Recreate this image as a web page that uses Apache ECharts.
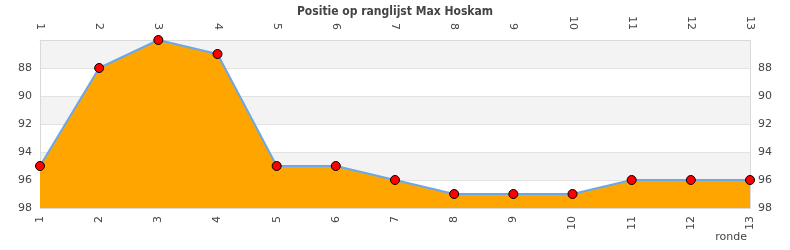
<!DOCTYPE html>
<html>
<head>
<meta charset="utf-8">
<script src="https://cdn.jsdelivr.net/npm/echarts@6/dist/echarts.min.js"></script>
<style>
  html, body { margin: 0; padding: 0; background: #fff; }
  #chart { width: 790px; height: 250px; }
</style>
</head>
<body>
<div id="chart"></div>
<script>
// ronde (rounds) and position in the ranking
const rondes = ['1', '2', '3', '4', '5', '6', '7', '8', '9', '10', '11', '12', '13'];
const posities = [95, 88, 86, 87, 95, 95, 96, 97, 97, 97, 96, 96, 96];
const yTicks = [86, 88, 90, 92, 94, 96, 98];

let myChart = echarts.init(document.getElementById('chart'));

let labelStyle = {
    color: '#444',
    fontFamily: 'DejaVu Sans',
    fontSize: 11
};

let xBase = {
    type: 'category',
    data: rondes,
    boundaryGap: false,
    axisTick: { show: false },
    axisLine: { show: true, lineStyle: { color: '#d9d9d9' } },
    splitLine: { show: false },
    axisLabel: Object.assign({ rotate: 90, interval: 0, margin: 8 }, labelStyle)
};

let yBase = {
    type: 'value',
    inverse: true,
    min: yTicks[0],
    max: yTicks[yTicks.length - 1],
    interval: 2,
    axisTick: { show: false },
    axisLine: { show: true, lineStyle: { color: '#d9d9d9' } },
    axisLabel: Object.assign({ showMinLabel: false, margin: 8 }, labelStyle)
};

let option = {
    animation: false,
    title: [{
        text: 'Positie op ranglijst Max Hoskam',
        left: 'center',
        top: 1,
        textStyle: {
            color: '#444',
            fontFamily: '"DejaVu Sans Condensed", "DejaVu Sans"',
            fontSize: 12,
            fontWeight: 'bold'
        }
    }, {
        text: 'ronde',
        right: 38,
        bottom: 2,
        textStyle: Object.assign({}, labelStyle, { fontWeight: 'normal' })
    }],
    grid: {
        left: 40,
        right: 40,
        top: 40,
        bottom: 42,
        containLabel: false
    },
    xAxis: [
        Object.assign({}, xBase, { position: 'bottom' }),
        Object.assign({}, xBase, {
            position: 'top',
            axisLabel: Object.assign({ rotate: 90, interval: 0, margin: 10 }, labelStyle)
        })
    ],
    yAxis: [
        Object.assign({}, yBase, {
            position: 'left',
            splitLine: { show: true, lineStyle: { color: '#e3e3e3' } },
            splitArea: { show: true, areaStyle: { color: ['#f3f3f3', '#ffffff'] } }
        }),
        Object.assign({}, yBase, { position: 'right', splitLine: { show: false } })
    ],
    series: [{
        name: 'positie',
        type: 'line',
        data: posities,
        symbol: 'circle',
        symbolSize: 9,
        itemStyle: { color: '#ff0000', borderColor: '#000', borderWidth: 1 },
        lineStyle: { color: '#6aa8e8', width: 2 },
        areaStyle: { color: '#ffa500', opacity: 1, origin: 'end' },
        z: 3
    }]
};
myChart.setOption(option);
</script>
</body>
</html>
